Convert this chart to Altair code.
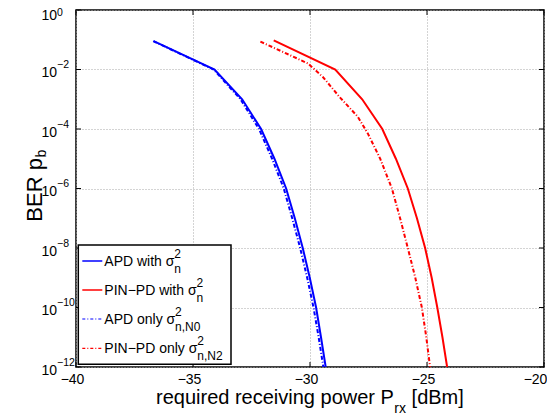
import altair as alt
import pandas as pd

# ---------------- data ----------------
ber_grid = [9e-2, 1e-2, 1e-3, 1e-4, 1e-5, 1e-6, 1e-7, 1e-8, 1e-9, 1e-10, 1e-11, 1e-12]

apd_x = [-36.68, -34.08, -32.90, -32.09, -31.52, -31.02, -30.65, -30.31, -30.01, -29.74, -29.53, -29.33]
apd_ber = ber_grid

pin_x = [-31.55, -28.92, -27.77, -26.91, -26.33, -25.82, -25.43, -25.08, -24.80, -24.56, -24.34, -24.14]
pin_ber = [9.5e-2, 1e-2, 1e-3, 1e-4, 1e-5, 1e-6, 1e-7, 1e-8, 1e-9, 1e-10, 1e-11, 1e-12]

apd_n0_x = [-36.70, -34.12, -32.97, -32.18, -31.62, -31.12, -30.76, -30.42, -30.12, -29.85, -29.63, -29.43]
apd_n0_ber = ber_grid

pin_n2_x = [-32.12, -30.09, -29.45, -28.74, -27.96, -27.53, -27.00, -26.50, -26.15, -25.82, -25.50, -25.22, -25.03, -24.87]
pin_n2_ber = [8.7e-2, 1.6e-2, 5.6e-3, 1.2e-3, 2.6e-4, 7.1e-5, 1e-5, 1e-6, 1e-7, 1e-8, 1e-9, 1e-10, 1e-11, 1e-12]

x_ticks = [-40, -35, -30, -25, -20]
y_ticks = [1, 1e-2, 1e-4, 1e-6, 1e-8, 1e-10, 1e-12]
y_exponents = ["0", "\u22122", "\u22124", "\u22126", "\u22128", "\u221210", "\u221212"]

legend_main = ["APD with \u03c3", "PIN\u2212PD with \u03c3", "APD only \u03c3", "PIN\u2212PD only \u03c3"]
legend_sub = ["n", "n", "n,N0", "n,N2"]
legend_sup = ["2", "2", "2", "2"]

x_title = ["required receiving power P", "rx", "[dBm]"]
y_title = ["BER p", "b"]

# ---------------- styling ----------------
FONT = "Liberation Sans"
BLUE = "#0000ff"
RED = "#ff0000"
GRID = "#a8a8a8"
DASHDOT = [4, 2, 1, 2]
W, H = 468, 357

# Arial / Liberation Sans advance widths (per 1000 em)
AW = {'A': 667, 'P': 667, 'D': 722, ' ': 278, 'w': 722, 'i': 222, 't': 278, 'h': 556, 'o': 556,
      'n': 556, 'l': 222, 'y': 500, 'I': 278, 'N': 722, '\u2212': 584, '\u03c3': 571, ',': 278,
      '0': 556, '2': 556, 'r': 333, 'e': 556, 'q': 556, 'u': 556, 'd': 556, 'c': 500, 'v': 500,
      'g': 556, 'p': 556, 'B': 667, 'E': 667, 'R': 722, 'x': 500, '[': 278, ']': 278, 'm': 833}


def tw(s, fs):
    return sum(AW.get(c, 556) for c in s) * fs / 1000.0


X = alt.X("x:Q",
          scale=alt.Scale(domain=[-40, -20], nice=False, zero=False),
          axis=alt.Axis(values=x_ticks, title=None, grid=True, gridDash=[1, 2], gridColor=GRID,
                        gridWidth=1, ticks=False, domain=False, labelFontSize=14, labelPadding=5,
                        labelFlush=False,
                        labelOffset={"condition": {"test": "datum.value > -21", "value": -9}, "value": -4},
                        labelColor="black", format="d", labelOverlap=False, labelFont=FONT))
Y = alt.Y("y:Q",
          scale=alt.Scale(type="log", domain=[1e-12, 1], nice=False),
          axis=alt.Axis(values=y_ticks, title=None, grid=True, gridDash=[1, 2], gridColor=GRID,
                        gridWidth=1, ticks=False, domain=False, labelFontSize=14,
                        labelExpr="'10'", labelAlign="left", labelBaseline="middle",
                        labelPadding=35,
                        labelOffset={"condition": {"test": "datum.value > 0.5", "value": 5}, "value": 3},
                        labelColor="black", labelOverlap=False, labelFont=FONT))

layers = []


def series(xs, ys, color, dash):
    df = pd.DataFrame({"x": xs, "y": ys})
    kw = dict(color=color, strokeWidth=2, clip=True)
    if dash:
        kw["strokeDash"] = dash
    return alt.Chart(df).mark_line(**kw).encode(x=X, y=Y)


layers.append(series(apd_x, apd_ber, BLUE, None))
layers.append(series(pin_x, pin_ber, RED, None))
layers.append(series(apd_n0_x, apd_n0_ber, BLUE, DASHDOT))
layers.append(series(pin_n2_x, pin_n2_ber, RED, DASHDOT))

# inner ticks (MATLAB style)
xt = pd.DataFrame({"x": x_ticks})
yt = pd.DataFrame({"y": y_ticks})
for y0, y1 in [(H, H - 5), (0, 5)]:
    layers.append(alt.Chart(xt).mark_rule(color="black", strokeWidth=1)
                  .encode(x=X, y=alt.value(y0), y2=alt.value(y1)))
for x0, x1 in [(0, 5), (W, W - 5)]:
    layers.append(alt.Chart(yt).mark_rule(color="black", strokeWidth=1)
                  .encode(y=Y, x=alt.value(x0), x2=alt.value(x1)))

# y tick exponents
ex = pd.DataFrame({"x": [-40] * len(y_ticks), "y": y_ticks, "t": y_exponents})
layers.append(alt.Chart(ex).transform_filter("datum.y < 0.5")
              .mark_text(align="left", baseline="middle", dx=-19, dy=-4.5, fontSize=10.5,
                         font=FONT, color="black")
              .encode(x=X, y=Y, text="t:N"))
layers.append(alt.Chart(ex).transform_filter("datum.y > 0.5")
              .mark_text(align="left", baseline="middle", dx=-19, dy=2.5, fontSize=10.5,
                         font=FONT, color="black")
              .encode(x=X, y=Y, text="t:N"))

one = pd.DataFrame({"a": [0]})


def txt(s, x, y, fs, align="left", baseline="alphabetic", angle=0):
    kw = dict(text=s, align=align, baseline=baseline, fontSize=fs, font=FONT, color="black")
    if angle:
        kw["angle"] = angle
    return alt.Chart(one).mark_text(**kw).encode(x=alt.value(x), y=alt.value(y))


# axis titles with subscripts
tx, ty = 80, 394
layers.append(txt(x_title[0], tx, ty, 20))
sx = tx + tw(x_title[0], 20) + 0.5
layers.append(txt(x_title[1], sx, ty + 9, 14))
layers.append(txt(x_title[2], sx + tw(x_title[1], 14) + tw(" ", 20), ty, 20))

yx, yy = -34.3, 211.7
layers.append(txt(y_title[0], yx, yy, 22, angle=270))
layers.append(txt(y_title[1], yx + 4, yy - tw(y_title[0], 22) - 0.5, 14, angle=270))

# legend box
layers.append(alt.Chart(one).mark_rect(fill="white", stroke="black", strokeWidth=1.5)
              .encode(x=alt.value(2.3), x2=alt.value(155), y=alt.value(235), y2=alt.value(354.3)))
row_y = [251, 280, 309, 338.3]
row_color = [BLUE, RED, BLUE, RED]
row_dash = [None, None, [3, 2, 1, 2], [3, 2, 1, 2]]
for i in range(4):
    kw = dict(color=row_color[i], strokeWidth=1.5 if row_dash[i] is None else 1.2)
    if row_dash[i]:
        kw["strokeDash"] = row_dash[i]
    layers.append(alt.Chart(one).mark_rule(**kw)
                  .encode(x=alt.value(6.3), x2=alt.value(26.3), y=alt.value(row_y[i])))
    layers.append(txt(legend_main[i], 28.3, row_y[i] + 5, 14))
    ex_ = 28.3 + tw(legend_main[i], 14) + 0.5
    layers.append(txt(legend_sup[i], ex_, row_y[i] - 3.5, 12))
    layers.append(txt(legend_sub[i], ex_, row_y[i] + 12, 12))

chart = (alt.layer(*layers)
         .properties(width=W, height=H, autosize="none",
                     padding={"left": 68, "top": 2, "right": 3, "bottom": 48})
         .configure(font=FONT)
         .configure_view(stroke="black", strokeWidth=1.5))

chart.save("out.html", embed_options={"renderer": "svg", "actions": False})
